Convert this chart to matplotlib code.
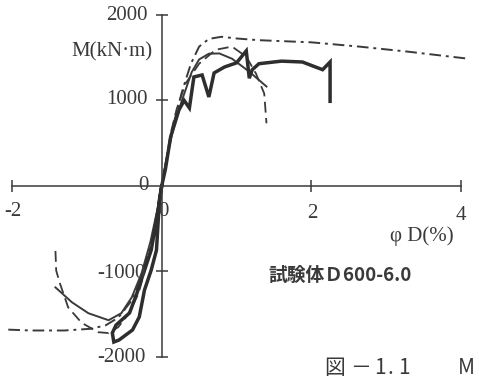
import matplotlib
matplotlib.use("Agg")
import matplotlib.pyplot as plt

# 曲率 phiD (%) と曲げモーメント M (kN·m)
skel_x = [-2.05, -1.75, -1.3, -0.95, -0.75, -0.58, -0.42, -0.28, -0.15, -0.06, 0.0,
          0.06, 0.15, 0.27, 0.39, 0.5, 0.63, 0.8, 1.0, 1.3, 2.0, 2.64, 3.3, 4.08]
skel_y = [-1680, -1690, -1690, -1670, -1630, -1540, -1360, -1100, -700, -300, 0,
          300, 700, 1100, 1430, 1630, 1720, 1745, 1725, 1705, 1680, 1630, 1570, 1490]

dash_x = [-1.42, -1.41, -1.36, -1.25, -1.07, -0.85, -0.71, -0.58, -0.44, -0.31, -0.18, -0.08, 0.0,
          0.06, 0.12, 0.2, 0.32, 0.5, 0.72, 0.94, 1.13, 1.26, 1.37, 1.4]
dash_y = [-760, -990, -1140, -1420, -1600, -1710, -1720, -1650, -1490, -1256, -850, -400, 0,
          300, 616, 900, 1200, 1430, 1593, 1630, 1512, 1314, 1081, 733]

thin_x = [-1.42, -1.2, -0.98, -0.71, -0.54, -0.4, -0.27, -0.15, -0.06, 0.0,
          0.06, 0.15, 0.27, 0.4, 0.5, 0.63, 0.77, 0.94, 1.17, 1.4]
thin_y = [-1186, -1360, -1488, -1570, -1488, -1302, -1023, -650, -280, 0,
          300, 650, 1000, 1330, 1480, 1547, 1550, 1488, 1337, 1163]

test_x = [0.0, -0.03, -0.07, -0.14, -0.23, -0.30, -0.39, -0.57, -0.64, -0.66, -0.61, -0.43,
          -0.33, -0.26, -0.14, -0.05, 0.0, 0.05, 0.12, 0.23, 0.3, 0.37, 0.43, 0.54, 0.63,
          0.7, 0.84, 1.0, 1.13, 1.17, 1.21, 1.3, 1.6, 1.88, 2.15, 2.25, 2.25]
test_y = [0, -160, -750, -982, -1216, -1532, -1684, -1801, -1825, -1719, -1626, -1485,
          -1251, -1064, -749, -300, 0, 200, 577, 889, 1000, 912, 1275, 1298, 1041,
          1322, 1392, 1440, 1580, 1260, 1360, 1430, 1460, 1450, 1360, 1450, 990]

x_ticks = [-2, 2, 4]
y_ticks = [-2000, -1000, 1000, 2000]

INK = "#3a3a3a"
SERIF = "Liberation Serif"
CJK = ["Noto Sans CJK JP", "DejaVu Sans"]

fig = plt.figure(figsize=(4.79, 3.8), dpi=100)
ax = fig.add_axes([0, 0, 1, 1])
ax.set_xlim(-2.161, 4.24)
ax.set_ylim(-2269, 2175)

for side in ("top", "right"):
    ax.spines[side].set_visible(False)
ax.spines["left"].set_position(("data", 0))
ax.spines["bottom"].set_position(("data", 0))
ax.spines["left"].set_bounds(-2000, 2000)
ax.spines["bottom"].set_bounds(-2, 4)
for side in ("left", "bottom"):
    ax.spines[side].set_color(INK)
    ax.spines[side].set_linewidth(1.1)

ax.set_xticks(x_ticks)
ax.set_yticks(y_ticks)
ax.tick_params(direction="inout", length=9, width=1.1, color=INK,
               labelbottom=False, labelleft=False)

ax.plot(skel_x, skel_y, color=INK, lw=1.4, dashes=(6, 2.5, 1.5, 2.5))
ax.plot(dash_x, dash_y, color=INK, lw=1.3, dashes=(6, 3))
ax.plot(thin_x, thin_y, color=INK, lw=1.4)
ax.plot(test_x, test_y, color="#2e2e2e", lw=2.5, solid_joinstyle="miter")


def put(px, py, s, **kw):
    fig.text(px / 479, 1 - py / 380, s, color=INK, **kw)


num = dict(family=SERIF, fontsize=15)
put(148, 15, "2000", ha="right", va="center", **num)
put(148, 100, "1000", ha="right", va="center", **num)
put(143, 186, "0", ha="center", va="center", **num)
put(146, 273, "-1000", ha="right", va="center", **num)
put(146, 357, "-2000", ha="right", va="center", **num)
put(13, 212, "-2", ha="center", va="center", **num)
put(163, 212, "0", ha="center", va="center", **num)
put(312, 213, "2", ha="center", va="center", **num)
put(461, 216, "4", ha="center", va="center", **num)

put(112, 52, "M(kN·m)", ha="center", va="center", **num)
put(422, 236, "φ D(%)", ha="center", va="center", family=SERIF, fontsize=15)

put(340, 275, "試験体Ｄ600-6.0", ha="center", va="center",
    family=CJK, fontsize=13.5, fontweight="bold")

# 図番号 (字間を広く取る)
caption = [(335, "図"), (361, "－"), (380, "1"), (390, "."), (404, "1"), (466, "M")]
for cx, ch in caption:
    put(cx, 379, ch, ha="center", va="bottom", family=CJK, fontsize=15)

fig.savefig("out.png", dpi=100)
